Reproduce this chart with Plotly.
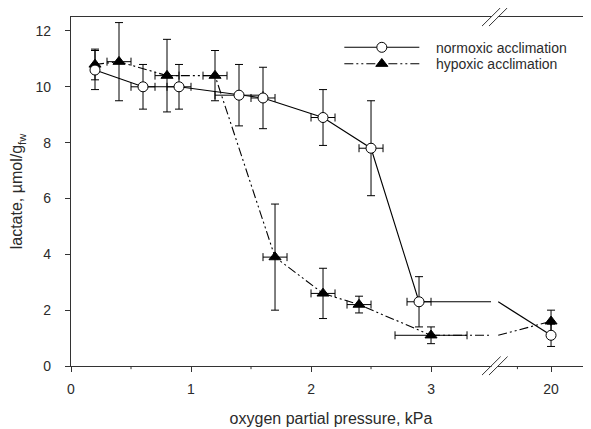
import plotly.graph_objects as go

# ---- data (kPa, µmol/g fw) ----
norm_x = [0.2, 0.6, 0.9, 1.4, 1.6, 2.1, 2.5, 2.9, 20]
norm_y = [10.6, 10.0, 10.0, 9.7, 9.6, 8.9, 7.8, 2.3, 1.1]
norm_yerr = [0.7, 0.8, 0.8, 1.1, 1.1, 1.0, 1.7, 0.9, 0.4]
norm_xerr = [0, 0.1, 0.1, 0.2, 0.1, 0.1, 0.1, 0.1, 0]

hyp_x = [0.2, 0.4, 0.8, 1.2, 1.7, 2.1, 2.4, 3.0, 20]
hyp_y = [10.8, 10.9, 10.4, 10.4, 3.9, 2.6, 2.2, 1.1, 1.6]
hyp_yerr = [0.55, 1.4, 1.3, 0.9, 1.9, 0.9, 0.3, 0.3, 0.4]
hyp_xerr = [0, 0.1, 0.1, 0.1, 0.1, 0.1, 0.1, 0.3, 0]

tick_vals_kpa = [0, 1, 2, 3, 20]
tick_text = ["0", "1", "2", "3", "20"]

# ---- broken axis mapping ----
BREAK_L, BREAK_R = 3.5, 3.56
HIGH_CENTER, HIGH_SCALE = 20, 0.56


def pos(v):
    return v if v <= BREAK_L else 4 + (v - HIGH_CENTER) * HIGH_SCALE


def xerr_pos(v, e):
    return e if v <= BREAK_L else e * HIGH_SCALE


TXT = "#2b2b2b"
FONT = "Liberation Sans, Arial, sans-serif"
PAD = "\u00a0\u00a0\u00a0"

fig = go.Figure()


def add_series(xs, ys, yerr, xerr, name, symbol, fill, dash, msize, legend):
    lo = [i for i, v in enumerate(xs) if v <= BREAK_L]
    hi = [i for i, v in enumerate(xs) if v > BREAK_L]
    last = lo[-1]
    # connector across the break
    cx, cy = [pos(xs[last]), BREAK_L, None, BREAK_R], [ys[last], ys[last], None, ys[last]]
    for i in hi:
        cx.append(pos(xs[i]))
        cy.append(ys[i])
    fig.add_trace(go.Scatter(x=cx, y=cy, mode="lines", showlegend=False, hoverinfo="skip",
                             line=dict(color="black", width=1.1, dash=dash)))
    err_style = dict(type="data", color="black", thickness=1, width=4)
    fig.add_trace(go.Scatter(
        x=[pos(xs[i]) for i in lo], y=[ys[i] for i in lo], mode="lines+markers",
        name=PAD + name, legend=legend,
        line=dict(color="black", width=1.1, dash=dash),
        marker=dict(symbol=symbol, size=msize, color=fill, line=dict(color="black", width=1)),
        error_y=dict(array=[yerr[i] for i in lo], **err_style),
        error_x=dict(array=[xerr_pos(xs[i], xerr[i]) for i in lo], **err_style),
    ))
    fig.add_trace(go.Scatter(
        x=[pos(xs[i]) for i in hi], y=[ys[i] for i in hi], mode="markers", showlegend=False,
        marker=dict(symbol=symbol, size=msize, color=fill, line=dict(color="black", width=1)),
        error_y=dict(array=[yerr[i] for i in hi], **err_style),
        error_x=dict(array=[xerr_pos(xs[i], xerr[i]) for i in hi], **err_style),
    ))


add_series(hyp_x, hyp_y, hyp_yerr, hyp_xerr, "hypoxic acclimation", "triangle-up", "black",
           "9px,3px,2px,3px,2px,3px", 10.5, "legend2")
add_series(norm_x, norm_y, norm_yerr, norm_xerr, "normoxic acclimation", "circle", "white",
           "solid", 10, "legend")

# minor x ticks
minor_pos = [0.5, 1.5, 2.5, pos(19.5), pos(20.5)]
shapes = []
for m in minor_pos:
    shapes.append(dict(type="line", xref="x", yref="paper", x0=m, x1=m, y0=0, y1=-0.009,
                       line=dict(color="#333", width=1)))
# break: white gap + double slashes at bottom and top
for yb in (0, 1):
    shapes.append(dict(type="rect", xref="x", yref="paper", x0=BREAK_L + 0.005, x1=BREAK_R - 0.003,
                       y0=yb - 0.01, y1=yb + 0.01, fillcolor="white", line=dict(width=0), layer="above"))
    for dx in (0.0, 0.058):
        shapes.append(dict(type="line", xref="x", yref="paper",
                           x0=3.425 + dx, x1=3.58 + dx, y0=yb - 0.026, y1=yb + 0.027,
                           line=dict(color="#333", width=1), layer="above"))

leg_common = dict(xanchor="left", yanchor="middle", bgcolor="rgba(0,0,0,0)",
                  font=dict(size=14, color=TXT, family=FONT), itemwidth=75)

fig.update_layout(
    width=583, height=421,
    margin=dict(l=63, r=0, t=9, b=63),
    paper_bgcolor="white", plot_bgcolor="white",
    font=dict(family=FONT, size=14, color=TXT),
    showlegend=True,
    legend=dict(x=0.516, y=0.912, **leg_common),
    legend2=dict(x=0.516, y=0.865, **leg_common),
    shapes=shapes,
    xaxis=dict(range=[0, 4.333], tickvals=[pos(v) for v in tick_vals_kpa], ticktext=tick_text,
               ticks="outside", ticklen=5, tickcolor="#333", showgrid=False, zeroline=False,
               showline=True, linecolor="#333", linewidth=1.2, mirror=True,
               ticklabelstandoff=5, tickfont=dict(size=14),
               title=dict(text="oxygen partial pressure, kPa", standoff=16, font=dict(size=16))),
    yaxis=dict(range=[0, 12.5], tickvals=[0, 2, 4, 6, 8, 10, 12], ticks="outside", ticklen=5,
               tickcolor="#333", showgrid=False, zeroline=False, showline=True, linecolor="#333",
               linewidth=1.2, ticklabelstandoff=11, tickfont=dict(size=14),
               title=dict(text="lactate, µmol/g<sub>fw</sub>", standoff=8, font=dict(size=16))),
)

fig.write_html("out.html")
